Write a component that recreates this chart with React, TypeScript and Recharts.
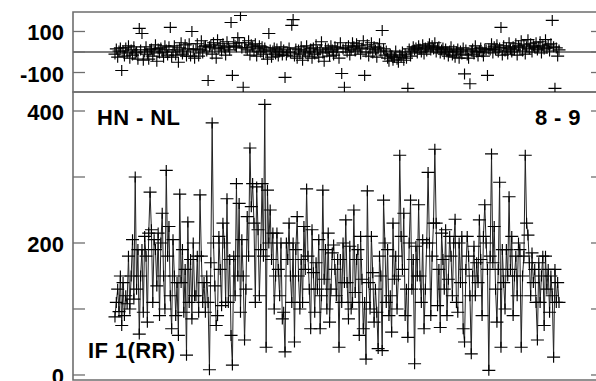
import React from "react";
import { LineChart, Line, XAxis, YAxis, ReferenceLine, ReferenceArea } from "recharts";

// amplitude (bottom panel), one value per integration
const AMP = [
  88, 110, 130, 96, 150, 75, 140, 90, 120, 108, 180, 100, 150, 205, 115, 300, 130, 190, 62, 150, 190, 95, 210, 180, 80, 215, 277, 220, 110, 205,
  190, 135, 215, 90, 200, 245, 150, 100, 310, 180, 225, 120, 70, 205, 150, 90, 140, 60, 274, 140, 190, 95, 160, 30, 232, 110, 175, 85, 200, 120,
  120, 180, 95, 273, 180, 110, 140, 95, 150, 110, 8, 170, 382, 200, 135, 75, 90, 210, 160, 105, 230, 200, 110, 267, 110, 175, 60, 15, 180, 120,
  290, 150, 260, 95, 205, 150, 53, 130, 240, 180, 344, 255, 290, 230, 110, 285, 220, 120, 190, 290, 180, 410, 42, 280, 200, 250, 175, 215, 100, 150,
  215, 160, 120, 200, 85, 95, 35, 200, 175, 230, 150, 110, 200, 50, 190, 240, 150, 100, 175, 110, 225, 160, 282, 180, 130, 70, 220, 155, 95, 170,
  130, 205, 70, 120, 280, 145, 190, 100, 215, 80, 130, 185, 197, 160, 120, 175, 42, 175, 110, 200, 140, 235, 140, 85, 195, 100, 110, 250, 125, 175,
  190, 60, 210, 145, 70, 110, 24, 279, 140, 100, 210, 155, 80, 130, 95, 40, 180, 150, 37, 265, 200, 110, 190, 90, 120, 65, 230, 145, 180, 100,
  150, 333, 210, 160, 245, 90, 130, 57, 200, 265, 130, 175, 17, 195, 150, 258, 150, 110, 205, 70, 130, 200, 307, 200, 90, 180, 230, 342, 230, 105,
  160, 72, 215, 175, 130, 220, 90, 145, 210, 180, 120, 200, 236, 110, 95, 200, 140, 210, 70, 50, 160, 210, 180, 120, 32, 150, 195, 120, 170, 140,
  235, 175, 90, 210, 258, 200, 160, 7, 180, 335, 170, 225, 130, 80, 160, 292, 42, 190, 140, 100, 190, 150, 270, 160, 210, 90, 150, 180, 120, 200,
  190, 42, 150, 180, 333, 230, 212, 170, 120, 185, 140, 160, 110, 53, 170, 110, 150, 180, 75, 180, 130, 160, 95, 150, 120, 27, 160, 110, 140, 110,
];

// residuals (top panel)
const RES = [
  -10, 15, -25, 5, 20, -90, 5, -20, 20, -5, 30, -30, 10, -15, 25, -5, 0, -35, 115, 10, 90, -40, 0, 25, -10, -35, 10, 15, -20, 5,
  35, -45, 15, -5, 20, 0, -25, 30, 10, -15, 25, 120, -25, 0, 30, -15, 10, -50, 20, 45, -10, 5, 35, -20, 15, 40, -20, 100, 10, -30,
  15, 40, -20, 10, 55, -5, 25, 30, 5, -139, 25, 35, -10, 45, 20, -30, 60, 15, 30, 5, 40, 20, -15, 50, 25, 10, 144, -114, 40, 30,
  25, 70, 45, 178, 20, -172, 45, 20, 10, 55, -15, 35, 25, 5, 40, -20, 15, 30, 0, 25, -10, 20, 5, -35, 90, 10, -25, 5, 20, -10,
  15, -20, 0, 25, -15, 10, -124, -15, 0, 20, -5, 130, 158, -20, 15, -30, 10, -10, 25, -40, 5, -5, 30, -20, 0, 15, -30, 20, -10, 35,
  5, -25, 10, 50, -5, -45, 20, 0, 15, -20, 30, 10, -15, 25, 0, 20, -30, 45, -105, 15, -172, 20, 0, 30, -15, 10, 45, 25, 5, 40,
  15, 30, -10, 20, 55, -114, 0, 35, -20, 15, 45, -5, 25, 10, -25, 20, 40, 5, 105, 15, -15, 5, -30, -45, -10, -20, -40, -25, 5, -35,
  -50, -15, -25, 0, -40, -10, -30, -177, 15, -20, 5, 25, 10, 20, -5, 30, 15, 0, 35, -10, 20, 5, 25, 40, 10, 30, 15, 45, 0, 20,
  25, -5, 10, 20, -10, 15, 0, -20, 5, 25, -15, 10, -25, 0, 15, -30, 5, -10, 20, -107, 10, -15, -30, -155, 5, 15, -10, 30, 0, -20,
  5, 20, 0, -20, 15, 10, -114, 15, 10, 40, -5, 25, 10, 35, 0, 20, 120, -15, 30, 5, 20, -10, 45, 15, 0, 25, 10, 40, -15, 30,
  20, 55, 5, 35, -10, 25, 60, 15, 40, 0, 30, 20, 45, 10, 25, 50, -5, 30, 15, 60, 20, 35, 5, 40, 154, 25, -177, 20, -20, 10,
];

const X_MAJOR = [121.5, 275.7];
const X_TICKS = [93.4, 121.5, 169.7, 217.9, 275.7, 325.3];
const X_DOMAIN = [-31.1, 361.6];

const RES_TICKS = [-100, 0, 100];
const RES_LABELS = [-100, 100];
const RES_DOMAIN = [-195, 195];

const AMP_TICKS = [0, 100, 200, 300, 400];
const AMP_LABELS = [0, 200, 400];
const AMP_DOMAIN = [-7.6, 428.8];

const resData = RES.map((v, i) => ({ i, v }));
const ampData = AMP.map((v, i) => ({ i, v }));

const FONT = "'Liberation Sans', Arial, Helvetica, sans-serif";
const FRAME = "#6e6e6e";
const LEFT = 73;
const RIGHT = 603;
const TOP_Y0 = 12;
const MID_Y = 92;
const BOT_Y1 = 380;

const renderCross = (p: any) => {
  const { cx, cy, key } = p;
  if (cx == null || cy == null) return <g key={key} />;
  return (
    <path
      key={key}
      d={`M${cx - 6.5},${cy}h13M${cx},${cy - 5.5}v11`}
      stroke="#000"
      strokeWidth={1.15}
      fill="none"
    />
  );
};

function YTick(props: any) {
  const { y, payload, labels } = props;
  const show = labels.includes(payload.value);
  return (
    <g>
      <line x1={LEFT} x2={LEFT + 12} y1={y} y2={y} stroke={FRAME} strokeWidth={1.3} />
      <line x1={RIGHT - 12} x2={RIGHT} y1={y} y2={y} stroke={FRAME} strokeWidth={1.3} />
      {show && (
        <text
          x={LEFT - 9}
          y={y + 9}
          textAnchor="end"
          fontFamily={FONT}
          fontWeight="bold"
          fontSize={22}
          fill="#000"
        >
          {payload.value}
        </text>
      )}
    </g>
  );
}

function XTickTop(props: any) {
  const { x, payload } = props;
  if (X_MAJOR.includes(payload.value)) {
    return (
      <g stroke="#333" strokeWidth={1.3}>
        <line x1={x} x2={x} y1={MID_Y} y2={MID_Y - 10} />
        <line x1={x} x2={x} y1={TOP_Y0} y2={TOP_Y0 + 8} />
      </g>
    );
  }
  return <line x1={x} x2={x} y1={MID_Y} y2={MID_Y - 3} stroke="#333" strokeWidth={1.2} />;
}

function XTickBottom(props: any) {
  const { x, payload } = props;
  if (!X_MAJOR.includes(payload.value)) return <g />;
  return (
    <g stroke="#333" strokeWidth={1.3}>
      <line x1={x} x2={x} y1={MID_Y} y2={MID_Y + 13} />
      <line x1={x} x2={x} y1={BOT_Y1} y2={BOT_Y1 - 12} />
    </g>
  );
}

export default function App() {
  return (
    <div
      style={{
        position: "absolute",
        left: 0,
        top: 0,
        width: 596,
        height: 381,
        overflow: "hidden",
        background: "#fff",
      }}
    >
      <div style={{ position: "absolute", left: 0, top: 0 }}>
        <LineChart
          width={610}
          height={381}
          data={ampData}
          margin={{ top: MID_Y, right: 610 - RIGHT, bottom: 381 - BOT_Y1, left: 0 }}
        >
          <XAxis
            type="number"
            dataKey="i"
            domain={X_DOMAIN}
            ticks={X_TICKS}
            interval={0}
            height={0}
            axisLine={false}
            tickLine={false}
            tick={(p: any) => <XTickBottom {...p} />}
            allowDataOverflow
          />
          <YAxis
            type="number"
            domain={AMP_DOMAIN}
            ticks={AMP_TICKS}
            interval={0}
            width={LEFT}
            axisLine={false}
            tickLine={false}
            tick={(p: any) => <YTick {...p} labels={AMP_LABELS} />}
            allowDataOverflow
          />
          <ReferenceArea
            x1={X_DOMAIN[0]}
            x2={X_DOMAIN[1]}
            y1={AMP_DOMAIN[0]}
            y2={AMP_DOMAIN[1]}
            fill="none"
            stroke={FRAME}
            strokeWidth={1.6}
          />
          <Line
            dataKey="v"
            stroke="#222"
            strokeWidth={1}
            dot={renderCross}
            activeDot={false}
            isAnimationActive={false}
          />
        </LineChart>
      </div>
      <div style={{ position: "absolute", left: 0, top: 0 }}>
        <LineChart
          width={610}
          height={100}
          data={resData}
          margin={{ top: TOP_Y0, right: 610 - RIGHT, bottom: 100 - MID_Y, left: 0 }}
        >
          <XAxis
            type="number"
            dataKey="i"
            domain={X_DOMAIN}
            ticks={X_TICKS}
            interval={0}
            height={0}
            axisLine={false}
            tickLine={false}
            tick={(p: any) => <XTickTop {...p} />}
            allowDataOverflow
          />
          <YAxis
            type="number"
            domain={RES_DOMAIN}
            ticks={RES_TICKS}
            interval={0}
            width={LEFT}
            axisLine={false}
            tickLine={false}
            tick={(p: any) => <YTick {...p} labels={RES_LABELS} />}
            allowDataOverflow
          />
          <ReferenceArea
            x1={X_DOMAIN[0]}
            x2={X_DOMAIN[1]}
            y1={RES_DOMAIN[0]}
            y2={RES_DOMAIN[1]}
            fill="none"
            stroke={FRAME}
            strokeWidth={1.6}
          />
          <ReferenceLine y={0} stroke="#555" strokeWidth={1.3} />
          <Line
            dataKey="v"
            stroke="none"
            dot={renderCross}
            activeDot={false}
            isAnimationActive={false}
          />
        </LineChart>
      </div>
      <svg
        width={596}
        height={381}
        style={{ position: "absolute", left: 0, top: 0, pointerEvents: "none" }}
      >
        <g fontFamily={FONT} fontWeight="bold" fontSize={22} fill="#000" letterSpacing={0.4}>
          <text x={97} y={125}>HN - NL</text>
          <text x={581} y={125} textAnchor="end">8 - 9</text>
          <text x={88} y={358}>IF 1(RR)</text>
        </g>
      </svg>
    </div>
  );
}
